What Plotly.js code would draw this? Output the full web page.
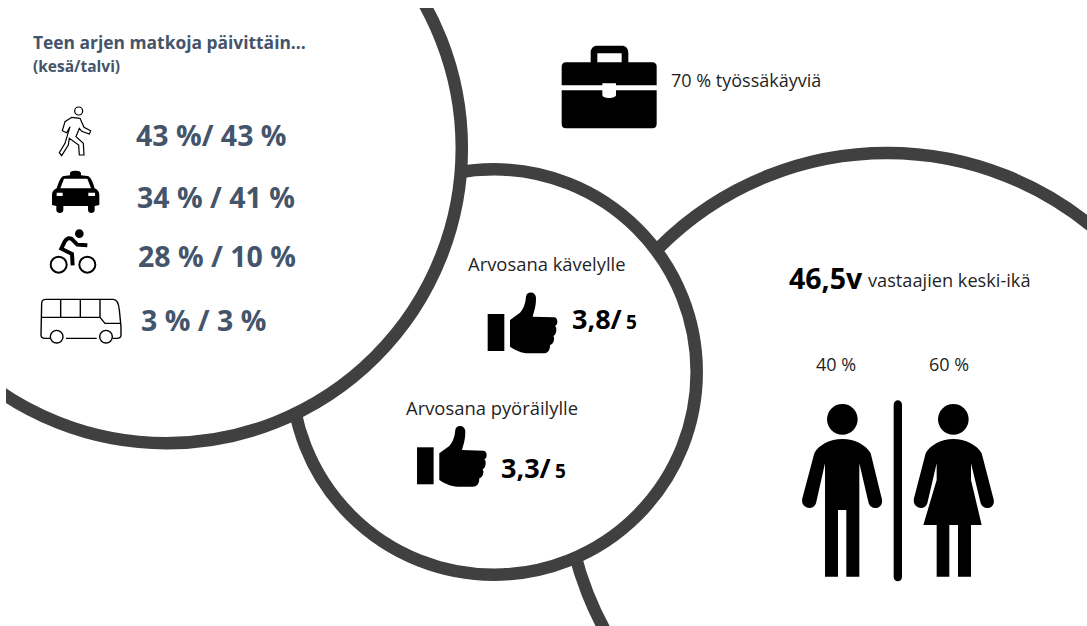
<!DOCTYPE html>
<html><head><meta charset="utf-8">
<script src="https://cdn.plot.ly/plotly-3.0.1.min.js"></script>
<style>html,body{margin:0;padding:0;background:#fff}#c{width:1087px;height:626px}</style></head>
<body><div id="c"></div>
<script>
const travelHeading = ['Teen arjen matkoja päivittäin...', '(kesä/talvi)'];
const travelShares = ['43 %/ 43 %', '34 % / 41 %', '28 % / 10 %', '3 % / 3 %'];
const ratingLabels = ['Arvosana kävelylle', 'Arvosana pyöräilylle'];
const ratingValues = ['3,8/', '3,3/'];
const ratingScale = '5';
const workText = '70 % työssäkäyviä';
const ageValue = '46,5v';
const ageText = 'vastaajien keski-ikä';
const genderShares = ['40 %', '60 %'];

const INK = '#000', SLATE = '#44546A', RING = '#404040', TEXT = '#1f1f1f', FONT = '"Open Sans", sans-serif';

// Icon outlines are authored on a 3x grid, then placed through the axes.
function place(d, ox, oy) {
  let i = 0;
  return d.replace(/-?\d+(\.\d+)?/g, n => {
    const v = +n / 3 + (i++ % 2 === 0 ? ox : oy);
    return v.toFixed(2);
  });
}
const base = {xref: 'x', yref: 'y'};
const fill = (d, ox, oy, color) => ({...base, type: 'path', path: place(d, ox, oy), fillcolor: color || INK, fillrule: 'evenodd', line: {width: 0}});
const stroke = (d, ox, oy, w) => ({...base, type: 'path', path: place(d, ox, oy), fillcolor: 'rgba(0,0,0,0)', line: {color: INK, width: w}});
const ring = (cx, cy, r, w) => ({...base, type: 'circle', x0: cx - r, x1: cx + r, y0: cy - r, y1: cy + r, fillcolor: '#fff', line: {color: RING, width: w}});
const blank = (x0, y0, x1, y1) => ({...base, type: 'rect', x0, y0, x1, y1, fillcolor: '#fff', line: {width: 0}});
const dot = (cx, cy, r, ox, oy, opts) => ({...base, type: 'circle', x0: (cx - r) / 3 + ox, x1: (cx + r) / 3 + ox, y0: (cy - r) / 3 + oy, y1: (cy + r) / 3 + oy,
  fillcolor: (opts && opts.fill) || INK, line: {color: INK, width: (opts && opts.w) || 0}});

const WALK = 'M 215 82 L 240 85 L 252 112 L 272 122 L 268 132 L 245 124 L 238 115 L 228 140 L 250 160 L 252 195 L 238 195 L 236 165 L 208 145 L 205 165 L 185 197 L 178 188 L 195 160 L 210 110 L 200 128 L 187 122 L 195 95 Z';
const TAXI = 'M 210 250 C 210 240 243 240 243 250 L 243 256 L 262 258 C 272 258 280 280 284 295 C 292 298 298 305 298 315 L 298 345 L 284 348 L 284 360 C 284 372 264 372 264 360 L 264 348 L 190 348 L 190 360 C 190 372 169 372 169 360 L 169 348 L 156 345 L 156 315 C 156 305 162 298 170 295 C 175 280 182 258 192 258 L 210 256 Z ' +
  'M 192 266 L 262 266 L 273 295 L 181 295 Z M 170 308 L 188 308 L 188 318 L 170 318 Z M 265 308 L 285 308 L 285 318 L 265 318 Z';
const RIDER = 'M 262 466 L 232 464 L 214 446 C 205 442 198 448 194 455 L 184 476 L 216 492 L 218 526';
const BUS = 'M 150 745 L 135 745 C 127 745 123 740 123 735 L 125 640 C 125 632 130 628 138 628 L 340 628 C 352 628 356 640 358 660 L 363 710 L 363 735 C 363 742 360 745 350 745 L 338 745 M 198 745 L 290 745 M 182 628 L 182 682 M 241 628 L 241 682 M 300 628 L 300 682 M 125 682 L 300 682 L 315 700 L 362 700';
const CUFF = 'M 263 222 L 313 222 L 313 333 L 263 333 Z';
const HAND = 'M 330 240 L 360 218 C 372 205 376 190 378 170 C 380 153 408 153 408 175 C 408 200 402 215 398 230 L 462 232 C 475 232 475 255 465 258 C 472 262 470 285 460 288 C 465 295 462 312 450 315 C 450 330 445 340 430 340 L 385 340 C 365 340 345 330 330 320 Z';
const MAN = 'M 187 297 C 150 297 115 315 103 340 L 67 475 C 60 505 100 515 108 490 L 135 370 L 135 710 L 174 710 L 174 510 L 199 510 L 199 710 L 238 710 L 238 370 L 266 490 C 274 515 314 505 305 475 L 272 340 C 258 315 225 297 187 297 Z';
const WOMAN = 'M 520 297 C 485 297 450 315 437 340 L 402 475 C 395 505 435 515 442 490 L 470 370 L 470 420 L 430 555 L 470 555 L 470 710 L 508 710 L 508 555 L 534 555 L 534 710 L 573 710 L 573 555 L 605 555 L 573 420 L 573 370 L 602 490 C 610 515 650 505 640 475 L 605 340 C 592 315 555 297 520 297 Z';
const BAR = 'M 341 194 C 341 176 366 176 366 194 L 366 710 C 366 728 341 728 341 710 Z';
const CASE = 'M 152 97 L 152 68 C 152 55 160 47 172 47 L 245 47 C 257 47 265 55 265 68 L 265 97 L 245 97 L 245 70 L 172 70 L 172 97 Z ' +
  'M 77 97 L 338 97 C 345 97 350 102 350 109 L 350 166 L 228 166 L 228 160 L 187 160 L 187 166 L 65 166 L 65 109 C 65 102 70 97 77 97 Z ' +
  'M 65 181 L 187 181 L 187 195 C 187 207 228 207 228 195 L 228 181 L 350 181 L 350 283 C 350 290 345 295 338 295 L 77 295 C 70 295 65 290 65 283 Z';

const shapes = [
  ring(887, 475, 322, 12.5),
  ring(494, 372, 202.7, 12.5),
  ring(166.6, 148, 295.2, 12.5),
  blank(0, 0, 1087, 8),
  blank(0, 0, 6, 626),
  stroke(WALK, 0, 90, 1.2),
  dot(236, 63, 12, 0, 90, {fill: '#fff', w: 1.2}),
  fill(TAXI, 0, 90),
  dot(238, 431, 13, 0, 90),
  stroke(RIDER, 0, 90, 4),
  dot(176, 524, 24, 0, 90, {fill: '#fff', w: 2}),
  dot(262, 524, 24, 0, 90, {fill: '#fff', w: 2}),
  stroke(BUS, 0, 90, 1.4),
  dot(170, 740, 19, 0, 90, {fill: '#fff', w: 1.4}),
  dot(318, 740, 19, 0, 90, {fill: '#fff', w: 1.4}),
  fill(CUFF, 400, 240), fill(HAND, 400, 240),
  fill(CUFF, 329.3, 373.3), fill(HAND, 329.3, 373.3),
  dot(187, 238, 46, 780, 340), fill(MAN, 780, 340),
  dot(520, 238, 46, 780, 340), fill(WOMAN, 780, 340),
  fill(BAR, 780, 340),
  fill(CASE, 540, 30)
];

const note = (text, x, y, size, color, bold, anchor) => ({
  xref: 'x', yref: 'y', x, y, text: bold ? '<b>' + text + '</b>' : text, showarrow: false,
  xanchor: anchor || 'left', yanchor: 'middle', align: 'left', borderpad: 0, borderwidth: 0,
  font: {family: FONT, size, color}
});

const annotations = [
  note(travelHeading[0], 33, 42, 17.4, SLATE, true),
  note(travelHeading[1], 33, 66, 15.5, SLATE, true),
  note(travelShares[0], 136, 135, 28.5, SLATE, true),
  note(travelShares[1], 137, 197, 28.5, SLATE, true),
  note(travelShares[2], 138, 256, 28.5, SLATE, true),
  note(travelShares[3], 141, 320, 28.5, SLATE, true),
  note(workText, 671, 80, 18, TEXT),
  note(ratingLabels[0], 468, 263, 18.4, TEXT),
  note(ratingLabels[1], 406, 407, 18.4, TEXT),
  note(ratingValues[0], 572, 318, 27, INK, true),
  note(ratingScale, 626, 322, 19, INK, true),
  note(ratingValues[1], 501, 467, 27, INK, true),
  note(ratingScale, 555, 471, 19, INK, true),
  note(ageValue, 789, 278, 28.5, INK, true),
  note(ageText, 868, 280, 18.2, TEXT),
  note(genderShares[0], 816, 364, 18, TEXT),
  note(genderShares[1], 929, 364, 18, TEXT)
];

Plotly.newPlot('c', [{type: 'scatter', x: [], y: [], hoverinfo: 'skip'}], {
  width: 1087, height: 626, margin: {l: 0, r: 0, t: 0, b: 0},
  paper_bgcolor: '#fff', plot_bgcolor: '#fff', showlegend: false,
  xaxis: {range: [0, 1087], visible: false, fixedrange: true},
  yaxis: {range: [626, 0], visible: false, fixedrange: true},
  shapes, annotations
}, {displayModeBar: false, staticPlot: true});
</script></body></html>
